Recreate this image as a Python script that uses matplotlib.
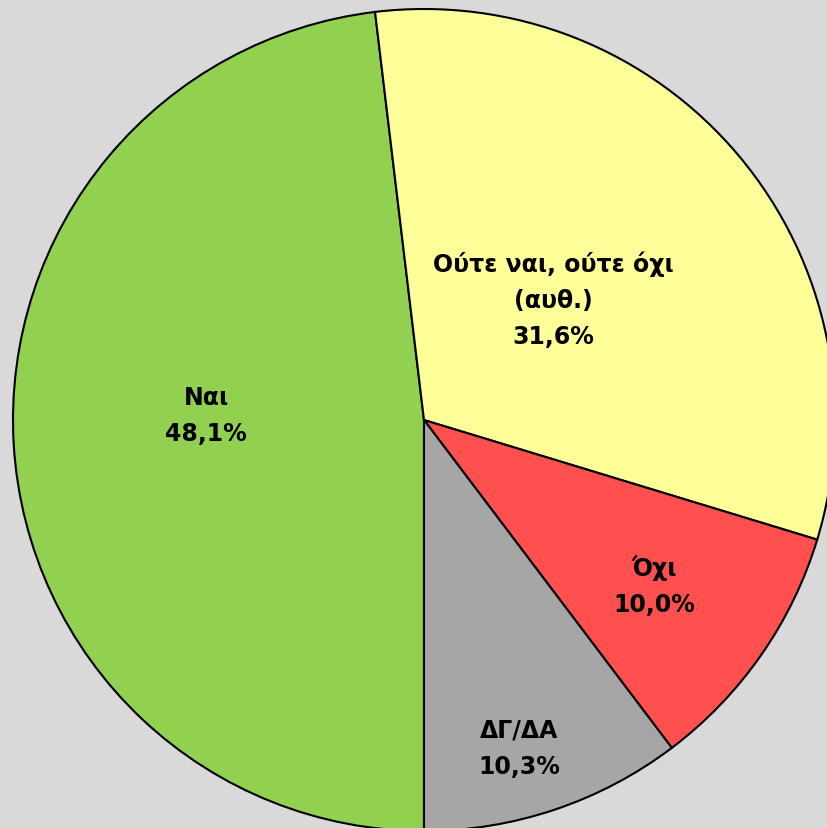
import numpy as np
import matplotlib
matplotlib.use("Agg")
import matplotlib.pyplot as plt

categories = ["Ναι", "Ούτε ναι, ούτε όχι\n(αυθ.)", "Όχι", "ΔΓ/ΔΑ"]
values = [48.1, 31.6, 10.0, 10.3]
value_labels = ["48,1%", "31,6%", "10,0%", "10,3%"]
colors = ["#92d050", "#ffff99", "#ff5050", "#a6a6a6"]
# label placement (radius fraction, angle offset in degrees)
label_r = [0.53, 0.43, 0.69, 0.83]
label_dang = [-4.7, 3.1, -0.7, -2.4]

plt.rcParams['font.family'] = ['DejaVu Sans']

W, H = 827, 829
fig = plt.figure(figsize=(W / 100, H / 100), dpi=100)
fig.patch.set_facecolor("#d9d9d9")
ax = fig.add_axes([0, 0, 1, 1])
ax.set_facecolor("#d9d9d9")

cx, cy, R = 424, 421, 411
wedges, _ = ax.pie(values, colors=colors, startangle=-90, counterclock=False,
                   radius=1.0,
                   wedgeprops=dict(edgecolor="black", linewidth=1.5))
ax.set_aspect('auto')
ax.set_xlim(-cx / R, (W - cx) / R)
ax.set_ylim(-(H - cy) / R, cy / R)
ax.axis('off')

for w, cat, vl, r, da in zip(wedges, categories, value_labels, label_r, label_dang):
    ang = np.deg2rad((w.theta1 + w.theta2) / 2 + da)
    ax.text(r * np.cos(ang), r * np.sin(ang), f"{cat}\n{vl}",
            ha="center", va="center", fontsize=17, fontweight="bold",
            linespacing=1.65, color="black")

fig.savefig("out.png", dpi=100, facecolor=fig.get_facecolor())
